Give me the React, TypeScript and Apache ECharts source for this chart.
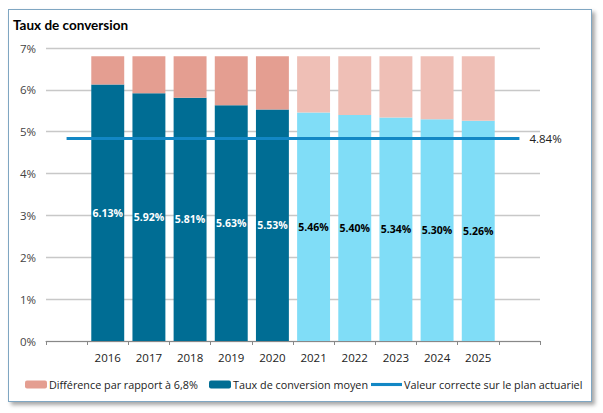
import React, { useEffect, useRef } from "react";
import * as echarts from "echarts";

const years = ["", "2016", "2017", "2018", "2019", "2020", "2021", "2022", "2023", "2024", "2025", ""];
const rates: (number | null)[] = [null, 6.13, 5.92, 5.81, 5.63, 5.53, 5.46, 5.4, 5.34, 5.3, 5.26, null];
const isForecast = [false, false, false, false, false, false, true, true, true, true, true, false];
const TARGET = 6.8;
const ACTUARIAL = 4.84;
const yTicks = [0, 1, 2, 3, 4, 5, 6, 7];

const FONT = "'Open Sans', 'Noto Sans', sans-serif";
const FONT2 = "Lato, 'Open Sans', sans-serif";
const DARK = "#006D94";
const LIGHT = "#80DDF7";
const SALMON = "#E49E91";
const PINK = "#EFBFB6";
const LINE = "#1287C5";

const S_DIFF = "Différence par rapport à 6,8%";
const S_RATE = "Taux de conversion moyen";
const S_LINE = "Valeur correcte sur le plan actuariel";

export default function App() {
  const ref = useRef<HTMLDivElement>(null);
  useEffect(() => {
    document.body.style.margin = "0";
    const chart = echarts.init(ref.current!, null, { renderer: "svg" });
    const rateData = rates.map((v, i) =>
      v == null
        ? "-"
        : {
            value: v,
            itemStyle: { color: isForecast[i] ? LIGHT : DARK },
            label: { color: isForecast[i] ? "#000" : "#fff" },
          }
    );
    const diffData = rates.map((v, i) =>
      v == null
        ? "-"
        : { value: +(TARGET - v).toFixed(2), itemStyle: { color: isForecast[i] ? PINK : SALMON } }
    );
    const legendBase = {
      top: 379,
      padding: 0,
      itemHeight: 8,
      itemGap: 0,
      textStyle: { fontFamily: FONT, fontSize: 10.8, color: "#222", padding: [0, 0, 0, -3] },
    };
    chart.setOption({
      animation: false,
      textStyle: { fontFamily: FONT },
      title: {
        text: "Taux de conversion",
        left: 13,
        top: 18,
        padding: 0,
        textStyle: { fontFamily: FONT2, fontSize: 13.5, fontWeight: "bold", color: "#000" },
      },
      grid: { left: 46, right: 63, top: 48, bottom: 72 },
      legend: [
        { ...legendBase, left: 25, itemWidth: 22, data: [{ name: S_DIFF, itemStyle: { color: SALMON } }] },
        { ...legendBase, left: 209, itemWidth: 22, data: [{ name: S_RATE, itemStyle: { color: DARK } }] },
        {
          ...legendBase,
          left: 371,
          itemWidth: 31,
          data: [{ name: S_LINE, icon: "path://M0,0H100V10H0Z" }],
        },
      ],
      xAxis: {
        type: "category",
        data: years,
        axisLine: { lineStyle: { color: "#888" } },
        axisTick: { show: true, length: 4, lineStyle: { color: "#888" } },
        axisLabel: { color: "#222", fontSize: 11.5, margin: 10, fontFamily: FONT },
      },
      yAxis: {
        type: "value",
        min: yTicks[0],
        max: yTicks[yTicks.length - 1],
        interval: 1,
        axisLabel: { formatter: "{value}%", color: "#444", fontSize: 11.5, margin: 10, fontFamily: FONT },
        splitLine: { lineStyle: { color: "#C8C8C8", width: 1.3 } },
        axisLine: { show: false },
        axisTick: { show: false },
      },
      series: [
        {
          name: S_RATE,
          type: "bar",
          stack: "s",
          barCategoryGap: "20%",
          itemStyle: { color: DARK },
          label: {
            show: true,
            position: "inside",
            fontSize: 10.5,
            fontWeight: "bold",
            fontFamily: FONT,
            formatter: (p: any) => p.value.toFixed(2) + "%",
          },
          data: rateData,
          z: 2,
        },
        {
          name: S_DIFF,
          type: "bar",
          stack: "s",
          itemStyle: { color: SALMON },
          data: diffData,
          z: 2,
        },
        {
          name: S_LINE,
          type: "line",
          symbol: "none",
          lineStyle: { color: LINE, width: 3 },
          itemStyle: { color: LINE },
          data: [
            [0, ACTUARIAL],
            [years.length - 1, ACTUARIAL],
          ],
          endLabel: {
            show: true,
            formatter: () => ACTUARIAL.toFixed(2) + "%",
            color: "#222",
            fontSize: 11.5,
            fontFamily: FONT,
            distance: 10,
          },
          z: 5,
        },
      ],
    });
    return () => chart.dispose();
  }, []);
  return (
    <div style={{ position: "relative", width: 603, height: 413, background: "#fff" }}>
      <div
        style={{
          position: "absolute",
          left: 8,
          top: 9,
          width: 582,
          height: 391,
          border: "1px solid #7FA6C2",
          boxShadow: "3px 3px 4px rgba(0,0,0,0.35)",
          background: "#fff",
        }}
      />
      <div ref={ref} style={{ position: "absolute", left: 0, top: 0, width: 603, height: 413 }} />
    </div>
  );
}
